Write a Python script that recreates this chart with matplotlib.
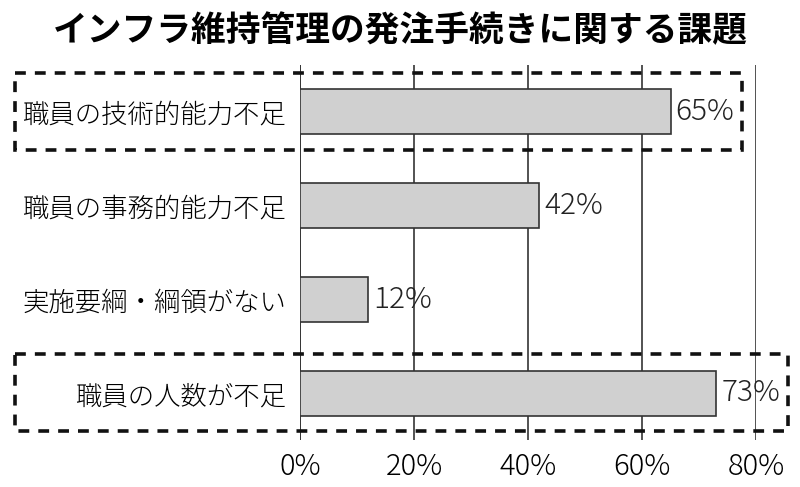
import matplotlib
matplotlib.use("Agg")
import matplotlib.pyplot as plt
import matplotlib.transforms as mtransforms
from matplotlib.patches import Rectangle

plt.rcParams['font.family'] = ['Noto Sans CJK JP', 'DejaVu Sans']
plt.rcParams['font.weight'] = 'light'

# data
categories = ["職員の技術的能力不足", "職員の事務的能力不足", "実施要綱・綱領がない", "職員の人数が不足"]
values = [65, 42, 12, 73]
xticks = [0, 20, 40, 60, 80]
xtick_labels = ["0%", "20%", "40%", "60%", "80%"]
title = "インフラ維持管理の発注手続きに関する課題"

fig = plt.figure(figsize=(8, 4.87), dpi=100)
ax = fig.add_axes([0.375, 0.0965, 0.57, 0.77])

ypos = list(range(len(categories)))
ax.barh(ypos, values, height=0.48, color="#d0d0d0", edgecolor="#333333", linewidth=1.2, zorder=3)
for y, v in zip(ypos, values):
    ax.text(v + 0.9, y, f"{v}%", va="center", ha="left", fontsize=21.5, color="#222222",
            fontweight="light", zorder=4)

ax.set_xlim(0, 80)
ax.set_ylim(len(categories) - 0.5, -0.5)
ax.set_yticks(ypos)
ax.set_yticklabels(categories, fontsize=19, fontweight="light")
ax.set_xticks(xticks)
ax.set_xticklabels(xtick_labels, fontsize=21, fontweight="light")
ax.tick_params(axis="y", length=0, pad=10)
ax.tick_params(axis="x", length=0, pad=8)
for s in ax.spines.values():
    s.set_visible(False)
for x in xticks:
    ax.axvline(x, color="#222222" if x == 0 else "#444444", linewidth=1.3, zorder=1)

# dashed highlight boxes (x in axes coords, y in data coords)
trans = mtransforms.blended_transform_factory(ax.transAxes, ax.transData)
for (x0, x1, y0, y1) in [(-0.625, 0.969, -0.415, 0.404), (-0.625, 1.07, 2.585, 3.404)]:
    ax.add_patch(Rectangle((x0, y0), x1 - x0, y1 - y0, transform=trans, fill=False,
                           edgecolor="#111111", linewidth=2.6, linestyle=(0, (3, 2.5)),
                           clip_on=False, zorder=5))

fig.text(0.5, 0.937, title, ha="center", va="center", fontsize=25, fontweight="bold")

fig.savefig("out.png", dpi=100)
